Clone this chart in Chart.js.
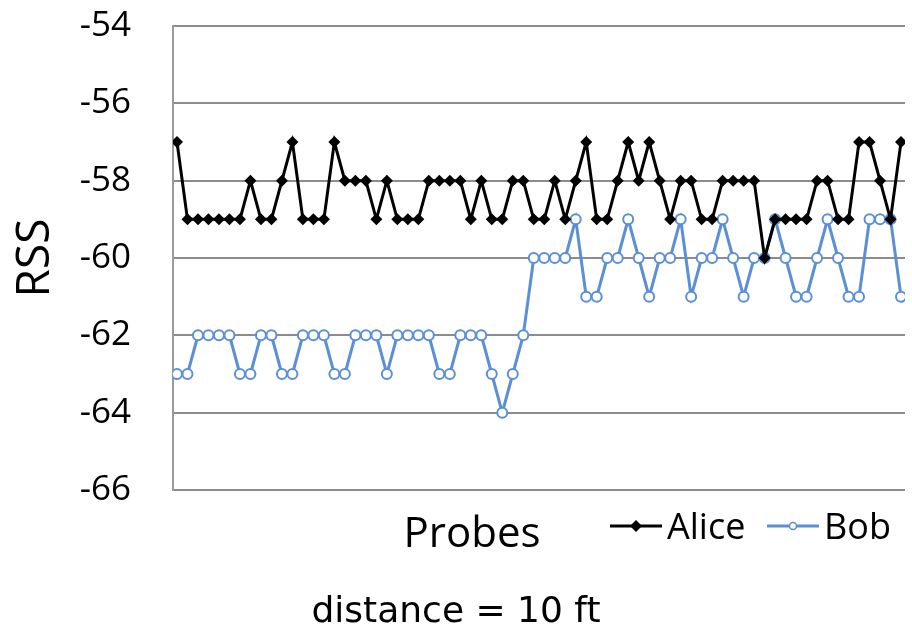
<!DOCTYPE html>
<html>
<head>
<meta charset="utf-8">
<script src="https://cdn.jsdelivr.net/npm/chart.js@4/dist/chart.umd.min.js"></script>
<style>
  html, body { margin: 0; padding: 0; background: #fff; }
  #wrap { width: 912px; height: 634px; }
  .probe { font-family: "Open Sans"; position: absolute; left: -999px; }
</style>
</head>
<body>
<span class="probe">Open Sans</span>
<div id="wrap"><canvas id="rss"></canvas></div>
<script>
// RSS per probe
const alice = [
  -57, -59, -59, -59, -59, -59, -59, -58, -59, -59,
  -58, -57, -59, -59, -59, -57, -58, -58, -58, -59,
  -58, -59, -59, -59, -58, -58, -58, -58, -59, -58,
  -59, -59, -58, -58, -59, -59, -58, -59, -58, -57,
  -59, -59, -58, -57, -58, -57, -58, -59, -58, -58,
  -59, -59, -58, -58, -58, -58, -60, -59, -59, -59,
  -59, -58, -58, -59, -59, -57, -57, -58, -59, -57
];
const bob = [
  -63, -63, -62, -62, -62, -62, -63, -63, -62, -62,
  -63, -63, -62, -62, -62, -63, -63, -62, -62, -62,
  -63, -62, -62, -62, -62, -63, -63, -62, -62, -62,
  -63, -64, -63, -62, -60, -60, -60, -60, -59, -61,
  -61, -60, -60, -59, -60, -61, -60, -60, -59, -61,
  -60, -60, -59, -60, -61, -60, -60, -59, -60, -61,
  -61, -60, -59, -60, -61, -61, -59, -59, -59, -61
];
// probe numbers 1..70
const probes = alice.map((_, i) => i + 1);
const yTicks = [-54, -56, -58, -60, -62, -64, -66];

const seriesNames = ['Alice', 'Bob'];
const xTitle = 'Probes';
const yTitle = 'RSS';
const caption = 'distance = 10 ft';

const FONT = '"Open Sans", Lato, sans-serif';
const BLUE = '#5b8fd6';

// 底部文字：x 軸標題、圖例、說明
const bottomText = {
    id: 'bottomText',
    afterDraw(chart) {
        const ctx = chart.ctx;
        ctx.save();
        ctx.fillStyle = '#000';
        ctx.textBaseline = 'alphabetic';

        ctx.font = '42px ' + FONT;
        ctx.textAlign = 'center';
        ctx.fillText(xTitle, 472, 547);

        // 圖例
        const items = [
            { x: 610, ds: chart.data.datasets[0] },
            { x: 767, ds: chart.data.datasets[1] }
        ];
        ctx.font = '36px ' + FONT;
        ctx.textAlign = 'left';
        items.forEach(it => {
            const y = 526;
            ctx.strokeStyle = it.ds.borderColor;
            ctx.lineWidth = 3;
            ctx.beginPath();
            ctx.moveTo(it.x, y);
            ctx.lineTo(it.x + 52, y);
            ctx.stroke();
            const cx = it.x + 26;
            if (it.ds.pointStyle === 'rectRot') {
                ctx.fillStyle = it.ds.borderColor;
                ctx.beginPath();
                ctx.moveTo(cx, y - 6);
                ctx.lineTo(cx + 6, y);
                ctx.lineTo(cx, y + 6);
                ctx.lineTo(cx - 6, y);
                ctx.closePath();
                ctx.fill();
            } else {
                ctx.fillStyle = '#fff';
                ctx.lineWidth = 1.5;
                ctx.beginPath();
                ctx.arc(cx, y, 3.5, 0, Math.PI * 2);
                ctx.fill();
                ctx.stroke();
            }
            ctx.fillStyle = '#000';
            ctx.fillText(it.ds.label, it.x + 57, 539);
        });

        ctx.font = '36px "DejaVu Sans", sans-serif';
        ctx.textAlign = 'center';
        ctx.fillText(caption, 456, 622);
        ctx.restore();
    }
};

function draw() {
    new Chart(document.getElementById('rss'), {
        type: 'line',
        data: {
            datasets: [{
                label: seriesNames[0],
                data: probes.map((p, i) => ({ x: p, y: alice[i] })),
                borderColor: '#000',
                backgroundColor: '#000',
                borderWidth: 3,
                pointStyle: 'rectRot',
                pointRadius: 6,
                pointBorderWidth: 0,
                tension: 0
            }, {
                label: seriesNames[1],
                data: probes.map((p, i) => ({ x: p, y: bob[i] })),
                borderColor: BLUE,
                backgroundColor: '#fff',
                borderWidth: 3,
                pointStyle: 'circle',
                pointRadius: 5,
                pointBorderWidth: 2,
                tension: 0
            }]
        },
        options: {
            responsive: true,
            maintainAspectRatio: false,
            animation: false,
            layout: { padding: { left: 0, top: 26, right: 4, bottom: 144 } },
            scales: {
                x: {
                    type: 'linear',
                    min: 0.62,
                    max: 70.38,
                    afterFit(scale) { scale.height = 0; },
                    ticks: { display: false },
                    grid: { display: false, drawTicks: false },
                    border: { display: false }
                },
                y: {
                    min: -66,
                    max: -54,
                    afterFit(scale) {
                        scale.width = 173;
                        scale.paddingTop = 0;
                        scale.paddingBottom = 0;
                    },
                    afterBuildTicks(scale) { scale.ticks = yTicks.map(v => ({ value: v })); },
                    ticks: {
                        padding: 42,
                        color: '#000',
                        font: { family: FONT, size: 35 }
                    },
                    grid: { color: '#8c8c8c', lineWidth: 2, drawTicks: false },
                    border: { color: '#9a9a9a', width: 2 },
                    title: {
                        display: true,
                        text: yTitle,
                        color: '#000',
                        font: { family: FONT, size: 46 },
                        padding: { top: 8, bottom: 0 }
                    }
                }
            },
            plugins: {
                legend: { display: false },
                tooltip: { enabled: false }
            }
        },
        plugins: [bottomText]
    });
}

Promise.all([
    document.fonts.load('35px "Open Sans"'),
    document.fonts.load('36px "DejaVu Sans"')
]).then(draw, draw);
</script>
</body>
</html>
